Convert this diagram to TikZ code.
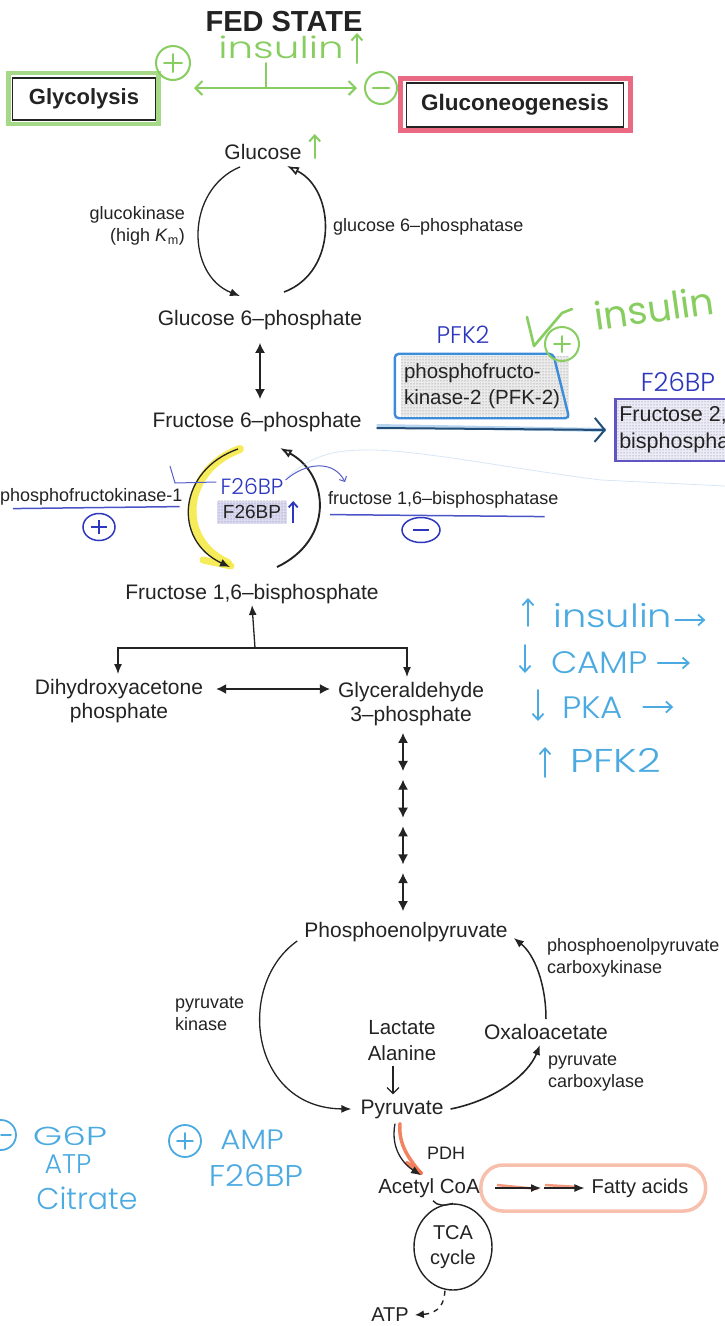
\documentclass[tikz,border=0pt]{standalone}
\usepackage{fontspec}
\setmainfont{Liberation Sans}
\IfFontExistsTF{Poppins Light}{\newfontfamily\handfont{Poppins Light}}{\newfontfamily\handfont{Poppins}}
\newfontfamily\handboldfont{Poppins}
\usetikzlibrary{arrows.meta,patterns,calc,shapes.geometric,backgrounds}

\definecolor{ink}{RGB}{35,35,35}
\definecolor{hgreen}{RGB}{135,205,95}
\definecolor{hpink}{RGB}{232,80,110}
\definecolor{hdblue}{RGB}{45,55,190}
\definecolor{hlblue}{RGB}{75,170,225}
\definecolor{hmblue}{RGB}{60,140,215}
\definecolor{hpurple}{RGB}{95,85,195}
\definecolor{horange}{RGB}{240,110,70}
\definecolor{hyellow}{RGB}{245,232,60}

\tikzset{
  lbl/.style={inner sep=1pt, text=ink, font=\fontsize{21}{24}\selectfont, align=center},
  enz/.style={inner sep=1pt, text=ink, font=\fontsize{18}{22}\selectfont, align=left},
  hand/.style={inner sep=0pt, font=\handfont\fontsize{#1}{#1}\selectfont},
  rxn/.style={draw=ink, line width=1.3, -{Latex[length=10pt,width=8pt]}},
  rxnopen/.style={draw=ink, line width=1.6, -{Latex[open,length=12pt,width=9pt]}},
  dbl/.style={draw=ink, line width=1.3, {Latex[length=10pt,width=10pt]}-{Latex[length=10pt,width=10pt]}},
  dotfill/.style={preaction={fill=#1}, pattern=dots, pattern color=black!55},
  dotfill/.default=black!8,
  hcirc/.style={circle, draw=#1, line width=2, inner sep=0pt},
  hmark/.style={line width=2, line cap=round, line join=round},
  barb/.style={-{Straight Barb[length=6pt,width=11pt]}},
}

\begin{document}
\begin{tikzpicture}[x=1pt,y=-1pt]
\useasboundingbox (0,0) rectangle (725,1326);
\begin{pgfonlayer}{background}
  \fill[white] (0,0) rectangle (725,1326);
\end{pgfonlayer}
\begin{scope}
\clip (0,0) rectangle (725,1326);

% ---------- headings ----------
\node[font=\bfseries\fontsize{29}{29}\selectfont, text=ink] (title) at (284,22) {FED STATE};
\node[draw=ink, line width=1.6, minimum width=143, minimum height=42, inner sep=0pt,
      font=\bfseries\fontsize{22}{22}\selectfont, text=ink] (glyc) at (84,99) {Glycolysis};
\node[draw=ink, line width=1.4, minimum width=217, minimum height=44, inner sep=0pt,
      font=\bfseries\fontsize{22.5}{22.5}\selectfont, text=ink] (gng) at (515,105) {Gluconeogenesis};
\begin{pgfonlayer}{background}
  \draw[hgreen, line width=4.5, opacity=.75] ($(glyc.north west)+(-3,-4)$) rectangle ($(glyc.south east)+(2,3)$);
  \draw[hpink, line width=5, opacity=.85] ($(gng.north west)+(-5,-4)$) rectangle ($(gng.south east)+(6,3)$);
\end{pgfonlayer}

% insulin switches the two pathways
\node[hcirc=hgreen, minimum size=34] (plusTop) at (173,63) {};
\node[hcirc=hgreen, minimum size=32] (minusTop) at (381,88) {};
\draw[hgreen, hmark] ($(plusTop)+(0,-9)$) -- ($(plusTop)+(0,9)$) ($(plusTop)+(-9,0)$) -- ($(plusTop)+(9,0)$);
\draw[hgreen, hmark, line width=2.6] ($(minusTop)+(-8,0)$) -- ($(minusTop)+(8,0)$);
\node[hand=30, text=hgreen, xscale=1.35, transform shape] (insTop) at (281,47) {insulin};
\draw[hgreen, hmark, barb] ($(insTop.east)+(13,16)$) -- ($(insTop.east)+(13,-14)$);
\draw[hgreen, hmark, {Straight Barb[length=7pt,width=14pt]}-{Straight Barb[length=7pt,width=14pt]}]
      ($(plusTop)+(21,25)$) -- ($(minusTop)+(-24,0)$);
\coordinate (tTop) at (266,63);
\draw[hgreen, hmark] (tTop) -- (tTop |- minusTop);

% ---------- glucose / glucose 6-phosphate ----------
\node[lbl] (glc) at (263,152) {Glucose};
\node[lbl] (g6p) at (260,320) {Glucose 6–phosphate};
\draw[hgreen, hmark, barb] ($(glc.east)+(12,6)$) -- ($(glc.east)+(12,-18)$);

\draw[rxn] ($(glc.south)+(-23,6)$) .. controls (185,190) and (186,275) .. ($(g6p.north)+(-20,-13)$);
\draw[rxnopen] ($(g6p.north)+(24,-17)$) .. controls (338,272) and (336,190) .. ($(glc.south)+(24,5)$);
\node[enz, anchor=east, align=right] (gk) at (186,226) {glucokinase\\(high \textit{K}\textsubscript{m})};
\node[enz, anchor=west] (g6pase) at (332,227) {glucose 6–phosphatase};

% ---------- fructose 6-phosphate and PFK-2 ----------
\node[lbl] (f6p) at (257,422) {Fructose 6–phosphate};
\draw[dbl] ($(g6p.south)+(0,12)$) -- ($(f6p.north)+(3,-12)$);

\node[dotfill, inner sep=3pt, text width=162, align=left, minimum height=60, text=ink,
      font=\fontsize{20.5}{26}\selectfont] (pfk2) at (485,386) {phosphofructo-\\kinase-2 (PFK-2)};
\draw[hmblue, line width=2.4, rounded corners=4]
      ($(pfk2.north west)+(-6,-2)$) -- ($(pfk2.north east)+(-16,-2)$) --
      ($(pfk2.south east)+(0,2)$) -- ($(pfk2.south west)+(-6,2)$) -- cycle;
\node[hand=24, text=hdblue] (pfk2note) at (463,335) {PFK2};

\node[dotfill=hpurple!12, draw=hpurple, line width=2.5, anchor=west, inner sep=4pt, align=left,
      minimum height=62, text=ink, font=\fontsize{21.5}{27}\selectfont] (f26) at (614,430) {Fructose 2,6–\\bisphosphate};
\node[hand=26, text=hdblue] (f26note) at (678,382) {F26BP};

\begin{pgfonlayer}{background}
  \draw[hmblue!60, line width=4, opacity=.6] ($(f6p.east)+(14,4)$) -- ($(f26.west)+(-8,0)$);
\end{pgfonlayer}
\draw[hmblue!55!black, line width=2, -{Straight Barb[length=10pt,width=24pt]}, shorten >=8pt]
      ($(f6p.east)+(14,6)$) -- (f26.west);

% insulin activates PFK-2
\node[inner sep=0pt, text=hgreen, font=\handboldfont\fontsize{38}{38}\selectfont, rotate=8] (insR) at (654,308) {insulin};
\node[hcirc=hgreen, minimum size=34] (plusR) at (562,344) {};
\draw[hgreen, hmark] ($(plusR)+(0,-8)$) -- ($(plusR)+(0,8)$) ($(plusR)+(-8,0)$) -- ($(plusR)+(8,0)$);
\draw[hgreen, hmark, line width=2.6] ($(plusR)+(-35,-27)$) -- ($(plusR)+(-28,2)$) -- ($(plusR)+(0,-31)$) -- ($(plusR)+(10,-35)$);

% ---------- fructose 1,6-bisphosphate cycle ----------
\node[lbl] (f16bp) at (252,594) {Fructose 1,6–bisphosphate};

\begin{pgfonlayer}{background}
  \draw[hyellow, line width=8, opacity=.85, line cap=round]
        ($(f6p.south)+(-17,16)$) .. controls (182,470) and (176,540) .. ($(f16bp.north)+(-24,-20)$);
  \draw[hyellow, line width=7, opacity=.85, line cap=round] (203,560) -- (231,566);
\end{pgfonlayer}
\draw[rxn] ($(f6p.south)+(-19,16)$) .. controls (178,470) and (172,540) .. ($(f16bp.north)+(-22,-16)$);
\draw[rxnopen, line width=1.9] ($(f16bp.north)+(25,-16)$) .. controls (334,540) and (330,475) .. ($(f6p.south)+(23,15)$);

\node[enz, anchor=west] (pfk1) at (-1,497) {phosphofructokinase-1};
\draw[hdblue!85, line width=1.5] ($(pfk1.south west)+(14,2)$) -- ($(pfk1.south east)+(-4,0)$);
\node[ellipse, draw=hdblue, line width=1.5, minimum width=32, minimum height=27, inner sep=0pt] (pfk1plus) at (99,527) {};
\draw[hdblue, line width=1.5] ($(pfk1plus)+(0,-7)$) -- ($(pfk1plus)+(0,7)$) ($(pfk1plus)+(-8,0)$) -- ($(pfk1plus)+(8,0)$);

\node[enz, anchor=west] (fbp) at (327,500) {fructose 1,6–bisphosphatase};
\draw[hdblue!85, line width=1.5] ($(fbp.south west)+(3,5)$) -- ($(fbp.south east)+(-15,7)$);
\node[ellipse, draw=hdblue, line width=1.5, minimum width=38, minimum height=25, inner sep=0pt] (fbpminus) at (421,530) {};
\draw[hdblue, line width=1.5] ($(fbpminus)+(-8,0)$) -- ($(fbpminus)+(8,0)$);

\node[hand=22, text=hdblue] (f26hand) at (252,486) {F26BP};
\node[dotfill=hpurple!22, inner sep=2pt, minimum width=70, minimum height=23, text=ink,
      font=\fontsize{19}{19}\selectfont] (f26in) at (252,512) {F26BP};
\draw[hdblue, line width=1.8, -{Straight Barb[length=5pt,width=9pt]}] ($(f26in.east)+(6,11)$) -- ($(f26in.east)+(6,-11)$);

% F2,6BP acts on both enzymes
\draw[hdblue!80, line width=1, line join=round] (170,466) -- (175,483) -- ($(f26hand.west)+(-4,-4)$);
\draw[hdblue!80, line width=1, -{Straight Barb[length=4pt,width=8pt]}]
      ($(f26hand.east)+(2,-6)$) .. controls (306,462) and (334,460) .. (345,482);
\draw[hmblue!45, line width=0.8, opacity=.45]
      ($(f26hand.north east)+(3,0)$) .. controls (315,452) and (340,450) .. (370,450)
      .. controls (420,450) and (520,470) .. (601,480) -- (725,486);

% ---------- triose phosphates ----------
\node[lbl] (dhap) at (119,701) {Dihydroxyacetone\\phosphate};
\node[lbl] (g3p) at (411,704) {Glyceraldehyde\\3–phosphate};
\coordinate (split) at (255,648);
\draw[rxn] (split) -- (f16bp.south);
\draw[rxn] (split) -| ($(dhap.north)+(-1,-4)$);
\draw[rxn] (split) -| ($(g3p.north)+(-4,-4)$);
\draw[dbl] ($(dhap.east)+(12,-12)$) -- ($(g3p.west)+(-7,-15)$);

% ---------- lower glycolysis ----------
\node[lbl] (pep) at (406,932) {Phosphoenolpyruvate};
\coordinate (s0) at ($(g3p.south)+(-8,6)$);
\foreach \k in {0,1,2,3}{
  \draw[dbl] ($(s0)+(0,{\k*46.7})$) -- ($(s0)+(0,{\k*46.7+38})$);
}

\node[lbl] (pyr) at (402,1109) {Pyruvate};
\node[lbl] (oaa) at (546,1032) {Oxaloacetate};
\node[lbl, font=\fontsize{20.5}{26}\selectfont] (lacala) at (402,1041) {Lactate\\Alanine};
\draw[ink, line width=1.2, -{Straight Barb[length=6pt,width=12pt]}] ($(lacala.south)+(-9,4)$) -- ($(pyr.north)+(-9,-4)$);

\draw[rxn] ($(pep.south west)+(-6,-2)$) .. controls (235,985) and (250,1108) .. ($(pyr.west)+(-8,0)$);
\draw[rxn, line width=1.6] ($(pyr.east)+(6,0)$) .. controls (495,1100) and (528,1075) .. ($(oaa.south)+(-6,4)$);
\draw[rxn, line width=1.5] ($(oaa.north)+(0,-4)$) .. controls (546,985) and (535,955) .. ($(pep.east)+(5,6)$);

\node[enz, anchor=west] (pk) at (174,1014) {pyruvate\\kinase};
\node[enz, anchor=west] (pepck) at (546,958) {phosphoenolpyruvate\\carboxykinase};
\node[enz, anchor=west] (pc) at (547,1073) {pyruvate\\carboxylase};

% ---------- acetyl CoA ----------
\node[lbl, font=\fontsize{20.5}{24}\selectfont] (acoa) at (429,1188) {Acetyl CoA};
\node[lbl, font=\fontsize{20}{24}\selectfont] (fa) at (640,1188) {Fatty acids};
\node[enz] (pdh) at (446,1153) {PDH};

\begin{pgfonlayer}{background}
  \draw[horange, line width=3.5, opacity=.85, line cap=round]
        ($(pyr.south)+(-2,4)$) .. controls (398,1145) and (410,1160) .. ($(acoa.north)+(-8,-4)$);
  \draw[horange, line width=4, opacity=.85, line cap=round] (407,1163) -- (421,1173);
  \draw[horange, line width=2.5, opacity=.7] (497,1185) -- (538,1189) (545,1185) -- (578,1187);
  \draw[horange!80, line width=3.5, opacity=.55, rounded corners=22]
        ($(acoa.east)+(0,-23)$) rectangle ($(fa.east)+(16,23)$);
\end{pgfonlayer}
\draw[rxn] ($(pyr.south)+(-7,4)$) .. controls (390,1150) and (405,1165) .. ($(acoa.north)+(-8,-2)$);
\coordinate (famid) at (541,1188);
\draw[rxn] ($(acoa.east)+(14,0)$) -- (famid);
\draw[rxn] ($(famid)+(3,0)$) -- ($(fa.west)+(-6,0)$);

\node[ellipse, draw=ink, line width=1.4, minimum width=78, minimum height=86, inner sep=0pt,
      align=center, text=ink, font=\fontsize{20}{25}\selectfont] (tca) at (453,1247) {TCA\\cycle};
\draw[ink, line width=1.4] ($(acoa.south)+(4,2)$) .. controls (437,1206) and (445,1206) .. (tca.north);
\node[lbl, font=\fontsize{20}{24}\selectfont] (atp) at (390,1315) {ATP};
\draw[ink, line width=1.4, dash pattern=on 5pt off 5pt, -{Latex[length=9pt,width=8pt]}]
      ($(tca.south)+(-8,0)$) .. controls (444,1303) and (440,1313) .. ($(atp.east)+(5,0)$);

% ---------- insulin cascade notes ----------
\node[hand=32, text=hlblue, anchor=west, xscale=1.2, transform shape] (n1) at (553,616) {insulin};
\draw[hlblue, hmark, line width=1.8, barb] ($(n1.west)+(-25,10)$) -- ($(n1.west)+(-25,-18)$);
\draw[hlblue, hmark, line width=1.8, barb] ($(n1.east)+(3,4)$) -- ($(n1.east)+(33,4)$);
\node[hand=31, text=hlblue, anchor=west, xscale=1.1, transform shape] (n2) at (551,663) {CAMP};
\draw[hlblue, hmark, line width=1.8, barb] ($(n2.west)+(-26,-18)$) -- ($(n2.west)+(-26,10)$);
\draw[hlblue, hmark, line width=1.8, barb] ($(n2.east)+(10,0)$) -- ($(n2.east)+(42,0)$);
\node[hand=31, text=hlblue, anchor=west, xscale=1.1, transform shape] (n3) at (562,708) {PKA};
\draw[hlblue, hmark, line width=1.8, barb] ($(n3.west)+(-24,-18)$) -- ($(n3.west)+(-24,13)$);
\draw[hlblue, hmark, line width=1.8, barb] ($(n3.east)+(20,-1)$) -- ($(n3.east)+(50,-1)$);
\node[hand=33, text=hlblue, anchor=west, xscale=1.25, transform shape] (n4) at (570,760) {PFK2};
\draw[hlblue, hmark, line width=1.8, barb] ($(n4.west)+(-25,17)$) -- ($(n4.west)+(-25,-13)$);

% ---------- PFK-1 effectors ----------
\node[circle, draw=hlblue, line width=1.8, minimum size=30, inner sep=0pt] (minusBL) at (1,1135) {};
\draw[hlblue, hmark, line width=1.8] (minusBL.center) -- ($(minusBL.center)+(10,0)$);
\node[hand=26, text=hlblue, xscale=1.45, transform shape] (g6pN) at (70,1136) {G6P};
\node[hand=27, text=hlblue] (atpN) at (68,1164) {ATP};
\node[hand=30, text=hlblue] (citN) at (87,1198) {Citrate};
\node[circle, draw=hlblue, line width=1.8, minimum size=32, inner sep=0pt] (plusBL) at (185,1141) {};
\draw[hlblue, hmark, line width=1.8] ($(plusBL)+(0,-8)$) -- ($(plusBL)+(0,8)$) ($(plusBL)+(-8,0)$) -- ($(plusBL)+(8,0)$);
\node[hand=28, text=hlblue, xscale=1.1, transform shape] (ampN) at (252,1140) {AMP};
\node[hand=30, text=hlblue, xscale=1.1, transform shape] (f26N) at (256,1176) {F26BP};

\end{scope}
\end{tikzpicture}
\end{document}
